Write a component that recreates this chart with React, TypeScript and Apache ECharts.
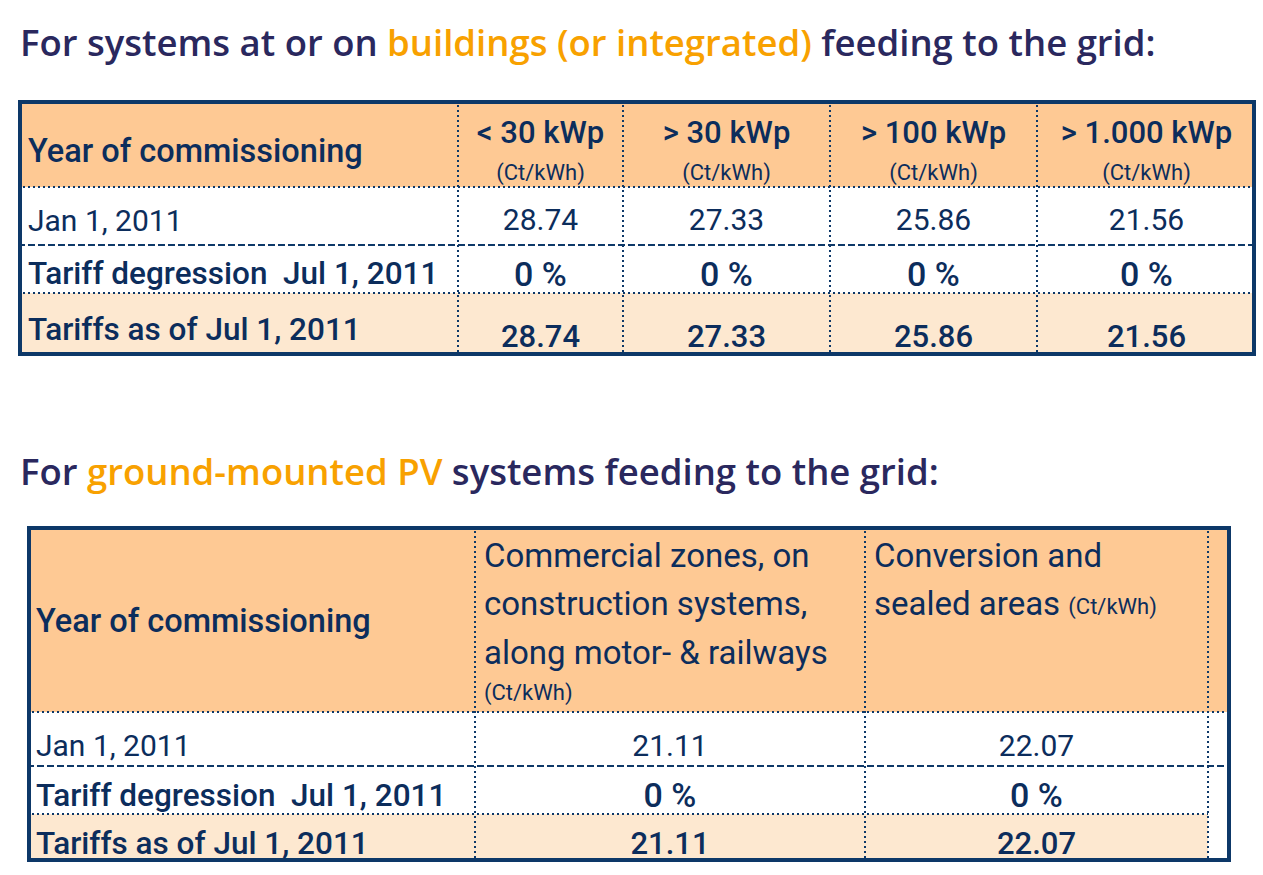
import React, { useEffect, useRef } from "react";
import * as echarts from "echarts";

// ---- data ----
const title1Parts = ["For systems at or on ", "buildings (or integrated)", " feeding to the grid:"];
const title2Parts = ["For ", "ground-mounted PV", " systems feeding to the grid:"];
const cornerLabel = "Year of commissioning";
const rowLabels = ["Jan 1, 2011", "Tariff degression  Jul 1, 2011", "Tariffs as of Jul 1, 2011"];
const unitLabel = "(Ct/kWh)";

const buildingCats = ["< 30 kWp", "> 30 kWp", "> 100 kWp", "> 1.000 kWp"];
const buildingJan = [28.74, 27.33, 25.86, 21.56];
const buildingDegression = [0, 0, 0, 0];
const buildingJul = [28.74, 27.33, 25.86, 21.56];

const groundCat1 = ["Commercial zones, on", "construction systems,", "along motor- & railways"];
const groundCat2 = ["Conversion and", "sealed areas"];
const groundJan = [21.11, 22.07];
const groundDegression = [0, 0];
const groundJul = [21.11, 22.07];

export default function App() {
  const ref = useRef<HTMLDivElement>(null);
  useEffect(() => {
    const chart = echarts.init(ref.current!, null, { renderer: "svg" });
    const FONT = "Roboto";
    const TFONT = "Open Sans";
    const NAVY = "#0d3868";
    const TEXT = "#0c2d5c";
    const PEACH = "#fec994";
    const LIGHT = "#fde8d0";
    const TITLE = "#2a285e";
    const ORANGE = "#f8a100";
    const DOT = [2, 3];
    const DASH = [7, 3];

    const bg: any[] = [];
    const lines: any[] = [];
    const texts: any[] = [];
    const borders: any[] = [];
    const rect = (x: number, y: number, w: number, h: number, fill: string) =>
      bg.push({ type: "rect", shape: { x, y, width: w, height: h }, style: { fill }, silent: true });
    const line = (x1: number, y1: number, x2: number, y2: number, dash: number[]) =>
      lines.push({ type: "line", shape: { x1, y1, x2, y2 }, style: { stroke: NAVY, lineWidth: 2, lineDash: dash }, silent: true });
    const text = (x: number, y: number, t: string, size: number, weight: any, align = "left", extra: any = {}) =>
      texts.push({
        type: "text", x, y, silent: true,
        style: { text: t, fontFamily: FONT, fontSize: size, fontWeight: weight, fill: TEXT, align, verticalAlign: "middle", ...extra },
      });
    const frame = (x0: number, y0: number, x1: number, y1: number) =>
      borders.push({ type: "rect", shape: { x: x0 + 2, y: y0 + 2, width: x1 - x0 - 4, height: y1 - y0 - 4 }, style: { fill: "none", stroke: NAVY, lineWidth: 4 }, silent: true });
    const fmt = (v: number) => v.toFixed(2);
    const pct = (v: number) => `${v} %`;

    // ---- titles ----
    const titleRich = (size: number) => ({
      a: { fill: TITLE, fontSize: size, fontWeight: 600, fontFamily: TFONT },
      b: { fill: ORANGE, fontSize: size, fontWeight: 600, fontFamily: TFONT },
    });
    texts.push({
      type: "text", x: 20, y: 42, silent: true,
      style: { text: `{a|${title1Parts[0]}}{b|${title1Parts[1]}}{a|${title1Parts[2]}}`, rich: titleRich(36.5), verticalAlign: "middle", align: "left" },
    });
    texts.push({
      type: "text", x: 20, y: 471, silent: true,
      style: { text: `{a|${title2Parts[0]}}{b|${title2Parts[1]}}{a|${title2Parts[2]}}`, rich: titleRich(36.5), verticalAlign: "middle", align: "left" },
    });

    // ---- top table ----
    const tX = [18, 458, 623, 830, 1037, 1256];
    const tY = [100, 187, 245, 293, 356];
    rect(tX[0], tY[0], tX[5] - tX[0], tY[1] - tY[0], PEACH);
    rect(tX[0], tY[1], tX[5] - tX[0], tY[3] - tY[1], "#ffffff");
    rect(tX[0], tY[3], tX[5] - tX[0], tY[4] - tY[3], LIGHT);
    for (let i = 1; i < 5; i++) line(tX[i], tY[0], tX[i], tY[4], DOT);
    line(tX[0], tY[1], tX[5], tY[1], DOT);
    line(tX[0], tY[2], tX[5], tY[2], DASH);
    line(tX[0], tY[3], tX[5], tY[3], DOT);

    text(28, 151, cornerLabel, 32.5, 500);
    text(28, 220, rowLabels[0], 30, 400);
    text(28, 273, rowLabels[1], 31.5, 500);
    text(28, 329, rowLabels[2], 31.5, 500);
    buildingCats.forEach((c, i) => {
      const cx = (tX[i + 1] + tX[i + 2]) / 2;
      text(cx, 132, c, 31, 500, "center");
      text(cx, 172, unitLabel, 22, 400, "center");
      text(cx, 219, fmt(buildingJan[i]), 30, 400, "center");
      text(cx, 274, pct(buildingDegression[i]), 34, 500, "center");
      text(cx, 336, fmt(buildingJul[i]), 31, 500, "center");
    });
    frame(tX[0], tY[0], tX[5], tY[4]);

    // ---- bottom table ----
    const bX = [27, 475, 865, 1208, 1231];
    const bY = [526, 712, 766, 814, 862];
    rect(bX[0], bY[0], bX[4] - bX[0], bY[1] - bY[0], PEACH);
    rect(bX[0], bY[1], bX[4] - bX[0], bY[4] - bY[1], "#ffffff");
    rect(bX[0], bY[3], bX[3] - bX[0], bY[4] - bY[3], LIGHT);
    for (let i = 1; i < 4; i++) line(bX[i], bY[0], bX[i], bY[4], DOT);
    line(bX[0], bY[1], bX[4], bY[1], DOT);
    line(bX[0], bY[2], bX[4], bY[2], DASH);
    line(bX[0], bY[3], bX[3], bY[3], DOT);

    text(36, 621, cornerLabel, 32.5, 500);
    text(36, 745, rowLabels[0], 30, 400);
    text(36, 795, rowLabels[1], 31.5, 500);
    text(36, 843, rowLabels[2], 31.5, 500);
    groundCat1.forEach((t, i) => text(484, 555 + i * 48.5, t, 33, 400));
    text(484, 692, unitLabel, 22, 400);
    text(874, 555, groundCat2[0], 33, 400);
    texts.push({
      type: "text", x: 874, y: 603, silent: true,
      style: {
        text: `{a|${groundCat2[1]} }{b|${unitLabel}}`, verticalAlign: "middle", align: "left",
        rich: {
          a: { fill: TEXT, fontSize: 33, fontWeight: 400, fontFamily: FONT },
          b: { fill: TEXT, fontSize: 22, fontWeight: 400, fontFamily: FONT, padding: [6, 0, 0, 0] },
        },
      },
    });
    [0, 1].forEach((i) => {
      const cx = (bX[i + 1] + bX[i + 2]) / 2;
      text(cx, 745, fmt(groundJan[i]), 30, 400, "center");
      text(cx, 795, pct(groundDegression[i]), 34, 500, "center");
      text(cx, 843, fmt(groundJul[i]), 31, 500, "center");
    });
    frame(bX[0], bY[0], bX[4], bY[4]);

    chart.setOption({
      animation: false,
      backgroundColor: "#ffffff",
      graphic: { elements: [...bg, ...lines, ...borders, ...texts] },
    });
    return () => chart.dispose();
  }, []);
  return <div ref={ref} style={{ position: "fixed", left: 0, top: 0, width: 1263, height: 875 }} />;
}
